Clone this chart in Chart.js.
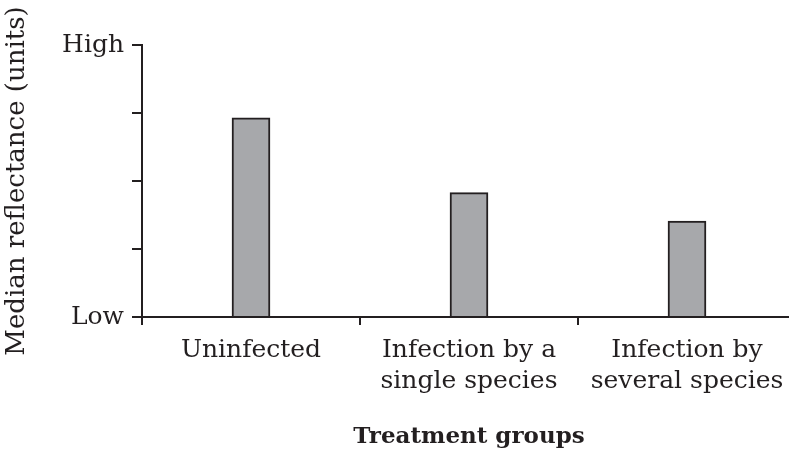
<!DOCTYPE html>
<html>
<head>
<meta charset="utf-8">
<script src="https://cdn.jsdelivr.net/npm/chart.js@4/dist/chart.umd.min.js"></script>
<style>
  html, body { margin: 0; padding: 0; background: #ffffff; overflow: hidden; }
  #wrap { width: 800px; height: 452px; }
</style>
</head>
<body>
<div id="wrap"><canvas id="c" width="800" height="452"></canvas></div>
<script>
const categories = [["Uninfected"], ["Infection by a", "single species"], ["Infection by", "several species"]];
const reflectance = [2.93, 1.83, 1.41];
const yTickLabels = { 0: "Low", 4: "High" };
const xTitle = "Treatment groups";
const yTitle = "Median reflectance (units)";

const ink = "#231f20";
const serif = "'DejaVu Serif', serif";

new Chart(document.getElementById("c"), {
  type: "bar",
  data: {
    labels: categories,
    datasets: [{
      data: reflectance,
      backgroundColor: "#a7a8ab",
      borderColor: ink,
      borderWidth: 2,
      borderSkipped: "bottom",
      barThickness: 38
    }]
  },
  options: {
    responsive: false,
    animation: false,
    devicePixelRatio: 1,
    layout: { padding: { top: 45, right: 4, left: 0, bottom: 0 } },
    plugins: { legend: { display: false }, tooltip: { enabled: false } },
    scales: {
      x: {
        offset: true,
        grid: { display: true, drawOnChartArea: false, drawTicks: true, tickLength: 8, color: ink, lineWidth: 2, offset: true },
        border: { display: true, color: ink, width: 2 },
        ticks: { color: ink, font: { family: serif, size: 25, lineHeight: 1.25 }, padding: 10, maxRotation: 0, autoSkip: false },
        title: { display: true, text: xTitle, color: ink, font: { family: serif, size: 23, weight: "bold" }, padding: { top: 0, bottom: 1 } },
        afterFit: (s) => { s.height = 135; }
      },
      y: {
        min: 0, max: 4,
        grid: { display: true, drawOnChartArea: false, drawTicks: true, tickLength: 10, color: ink, lineWidth: 2 },
        border: { display: true, color: ink, width: 2 },
        ticks: {
          stepSize: 1, color: ink, padding: 8,
          font: { family: serif, size: 25 },
          callback: (v) => (yTickLabels[v] !== undefined ? yTickLabels[v] : "")
        },
        title: { display: true, text: yTitle, color: ink, font: { family: serif, size: 26 }, padding: { top: 2, bottom: 0 } },
        afterFit: (s) => { s.width = 142; }
      }
    }
  }
});
</script>
</body>
</html>
